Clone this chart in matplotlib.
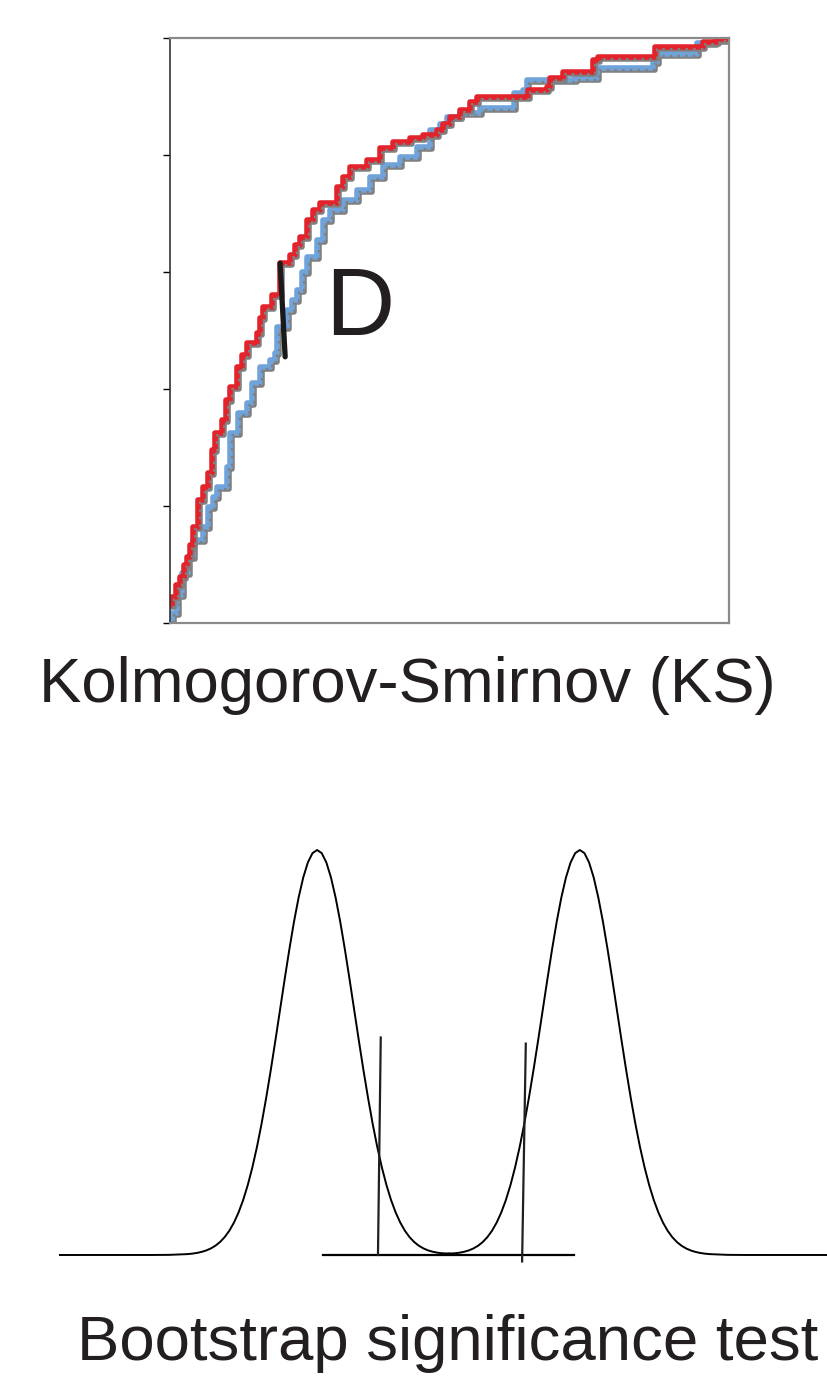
import matplotlib
matplotlib.use("Agg")
import matplotlib.pyplot as plt
import matplotlib.transforms as mtransforms

plt.rcParams['font.family'] = ['Liberation Sans', 'DejaVu Sans']

# KS panel: two cumulative distributions (x in % of range, y = cumulative fraction)
red_x = [0.0, 0.36, 1.07, 1.79, 2.5, 3.04, 3.58, 4.11, 5.01, 5.9, 6.8, 7.51, 8.05, 9.3, 10.0,
         10.7, 12.0, 12.9, 13.8, 15.6, 16.1, 16.6, 18.2, 19.7, 21.5, 22.4, 23.3, 24.5, 25.6,
         26.8, 28.6, 29.9, 30.9, 32.2, 35.2, 37.6, 39.9, 42.9, 45.3, 47.8, 48.8, 50.1, 51.9,
         53.7, 54.9, 63.9, 64.0, 67.4, 68.0, 70.3, 74.6, 75.7, 76.6, 85.9, 86.8, 94.3, 95.3,
         97.9, 100.0]
red_y = [0.031, 0.044, 0.065, 0.079, 0.099, 0.113, 0.133, 0.164, 0.210, 0.232, 0.256, 0.296,
         0.325, 0.347, 0.381, 0.403, 0.438, 0.458, 0.479, 0.496, 0.521, 0.540, 0.561, 0.615,
         0.629, 0.646, 0.660, 0.689, 0.706, 0.718, 0.718, 0.745, 0.762, 0.779, 0.791, 0.812,
         0.822, 0.829, 0.834, 0.843, 0.853, 0.865, 0.877, 0.891, 0.899, 0.899, 0.911, 0.916,
         0.932, 0.942, 0.942, 0.962, 0.968, 0.968, 0.985, 0.985, 0.993, 0.998, 1.0]

blue_x = [0.0, 0.36, 1.25, 2.15, 3.22, 4.11, 5.9, 6.8, 7.69, 8.41, 10.2, 10.7, 12.2, 13.8,
          14.7, 16.1, 17.9, 18.8, 19.1, 20.9, 21.8, 22.7, 23.6, 24.5, 26.3, 27.4, 28.6, 30.9,
          33.5, 35.8, 38.1, 41.1, 44.2, 46.5, 48.3, 49.6, 51.9, 55.5, 61.5, 63.1, 63.9, 70.3,
          72.5, 76.4, 80.0, 86.4, 87.1, 91.8, 94.3, 97.5, 100.0]
blue_y = [0.005, 0.017, 0.048, 0.085, 0.113, 0.142, 0.164, 0.198, 0.215, 0.232, 0.267, 0.325,
          0.359, 0.376, 0.410, 0.438, 0.450, 0.462, 0.506, 0.535, 0.552, 0.569, 0.600, 0.626,
          0.655, 0.689, 0.706, 0.723, 0.740, 0.762, 0.783, 0.797, 0.814, 0.843, 0.853, 0.865,
          0.872, 0.880, 0.906, 0.911, 0.928, 0.928, 0.932, 0.949, 0.949, 0.959, 0.973, 0.973,
          0.991, 0.997, 1.0]

# maximum distance D between the two curves
d_x = [19.7, 20.6]
d_y = [0.615, 0.455]

# Bootstrap panel: two bootstrap distributions (x in sd units, y relative density)
left_x = [-10.5, -8.05, -7.55, -7.05, -6.925, -6.8, -6.675, -6.55, -6.425, -6.3, -6.175, -6.05,
          -5.925, -5.8, -5.675, -5.55, -5.425, -5.3, -5.175, -5.05, -4.925, -4.8, -4.675,
          -4.55, -4.425, -4.3, -4.175, -4.05, -3.925, -3.8, -3.675, -3.55, -3.425, -3.3,
          -3.175, -3.05, -2.925, -2.8, -2.675, -2.55, -2.425, -2.3, -2.175, -2.05, -1.925,
          -1.8, -1.675, -1.55, -1.425, -1.3, -1.175, -1.05, -0.925, -0.8, -0.675, -0.55,
          -0.425, -0.3, -0.175, 0.0]
left_y = [0.0, 0.00004, 0.00034, 0.00219, 0.00336, 0.00508, 0.00758, 0.01111, 0.01604, 0.02282,
          0.03187, 0.04394, 0.05956, 0.07956, 0.10459, 0.13534, 0.17242, 0.21627, 0.26700,
          0.32465, 0.38865, 0.45783, 0.53110, 0.60653, 0.68194, 0.75484, 0.82283, 0.88250,
          0.93205, 0.96923, 0.99222, 1.0, 0.99222, 0.96923, 0.93205, 0.88250, 0.82283,
          0.75484, 0.68194, 0.60653, 0.53110, 0.45783, 0.38865, 0.32465, 0.26700, 0.21627,
          0.17242, 0.13534, 0.10459, 0.07956, 0.05956, 0.04394, 0.03187, 0.02282, 0.0162,
          0.0113, 0.0080, 0.0057, 0.0043, 0.0036]
right_x = [0.0, 0.175, 0.3, 0.425, 0.55, 0.675, 0.8, 0.925, 1.05, 1.175, 1.3, 1.425, 1.55,
           1.675, 1.8, 1.925, 2.05, 2.175, 2.3, 2.425, 2.55, 2.675, 2.8, 2.925, 3.05, 3.175,
           3.3, 3.425, 3.55, 3.675, 3.8, 3.925, 4.05, 4.175, 4.3, 4.425, 4.55, 4.675, 4.8,
           4.925, 5.05, 5.175, 5.3, 5.425, 5.55, 5.675, 5.8, 5.925, 6.05, 6.175, 6.3, 6.425,
           6.55, 6.675, 6.8, 6.925, 7.05, 7.55, 8.05, 10.5]
right_y = [0.0036, 0.0043, 0.0057, 0.0080, 0.0113, 0.0162, 0.02282, 0.03187, 0.04394, 0.05956,
           0.07956, 0.10459, 0.13534, 0.17242, 0.21627, 0.26700, 0.32465, 0.38865, 0.45783,
           0.53110, 0.60653, 0.68194, 0.75484, 0.82283, 0.88250, 0.93205, 0.96923, 0.99222,
           1.0, 0.99222, 0.96923, 0.93205, 0.88250, 0.82283, 0.75484, 0.68194, 0.60653,
           0.53110, 0.45783, 0.38865, 0.32465, 0.26700, 0.21627, 0.17242, 0.13534, 0.10459,
           0.07956, 0.05956, 0.04394, 0.03187, 0.02282, 0.01604, 0.01111, 0.00758, 0.00508,
           0.00336, 0.00219, 0.00034, 0.00004, 0.0]
base_x = [-3.39, 3.39]
base_y = [0.0, 0.0]
cut_lo_x = [-1.905, -1.83]
cut_lo_y = [0.0, 0.537]
cut_hi_x = [1.99, 2.09]
cut_hi_y = [-0.016, 0.522]

fig = plt.figure(figsize=(8.27, 13.76), dpi=100)

# ---- KS plot ----
ax = fig.add_axes([170 / 827, 1 - 623 / 1376, 559 / 827, 585 / 1376])
shadow = mtransforms.offset_copy(ax.transData, fig=fig, x=2, y=-2, units='dots')
for xs, ys, col in [(blue_x, blue_y, '#6fa3d9'), (red_x, red_y, '#e3232c')]:
    ax.plot(xs, ys, drawstyle='steps-post', color='#808080', lw=4.0, transform=shadow)
    ax.plot(xs, ys, drawstyle='steps-post', color=col, lw=4.0)
    ax.plot(xs, ys, drawstyle='steps-post', color='#808080', lw=1.5,
            ls=(0, (1.2, 2.5)), transform=shadow)
ax.plot(d_x, d_y, color='#1a1a1a', lw=3.8, solid_capstyle='round')
ax.text(34.0, 0.535, "D", fontsize=69, color='#231f20', ha='center', va='center')

ax.set_xlim(0, 100)
ax.set_ylim(0, 1)
ax.set_yticks([0, 0.2, 0.4, 0.6, 0.8, 1.0])
ax.set_yticklabels([])
ax.set_xticks([])
ax.tick_params(axis='y', direction='out', length=5, width=1, color='black')
for s in ['top', 'right', 'bottom']:
    ax.spines[s].set_color('#8a8a8a')
    ax.spines[s].set_linewidth(1.6)
ax.spines['left'].set_color('#333333')
ax.spines['left'].set_linewidth(1.2)

fig.text(407 / 827, 1 - 702 / 1376, "Kolmogorov-Smirnov (KS)", fontsize=45.7,
         color='#231f20', ha='center', va='baseline')

# ---- Bootstrap plot ----
ax2 = fig.add_axes([0, 1 - 1275 / 1376, 1, 445 / 1376])
ax2.plot(left_x, left_y, color='black', lw=1.4)
ax2.plot(right_x, right_y, color='black', lw=1.4)
ax2.plot(base_x, base_y, color='black', lw=1.6)
ax2.plot(cut_lo_x, cut_lo_y, color='#231f20', lw=1.6)
ax2.plot(cut_hi_x, cut_hi_y, color='#231f20', lw=1.6)
ax2.set_xlim(-12.12, 10.23)
ax2.set_ylim(-0.0494, 1.0494)
ax2.axis('off')

fig.text(447.5 / 827, 1 - 1360 / 1376, "Bootstrap significance test", fontsize=45.7,
         color='#231f20', ha='center', va='baseline')

fig.savefig('out.png', dpi=100)
